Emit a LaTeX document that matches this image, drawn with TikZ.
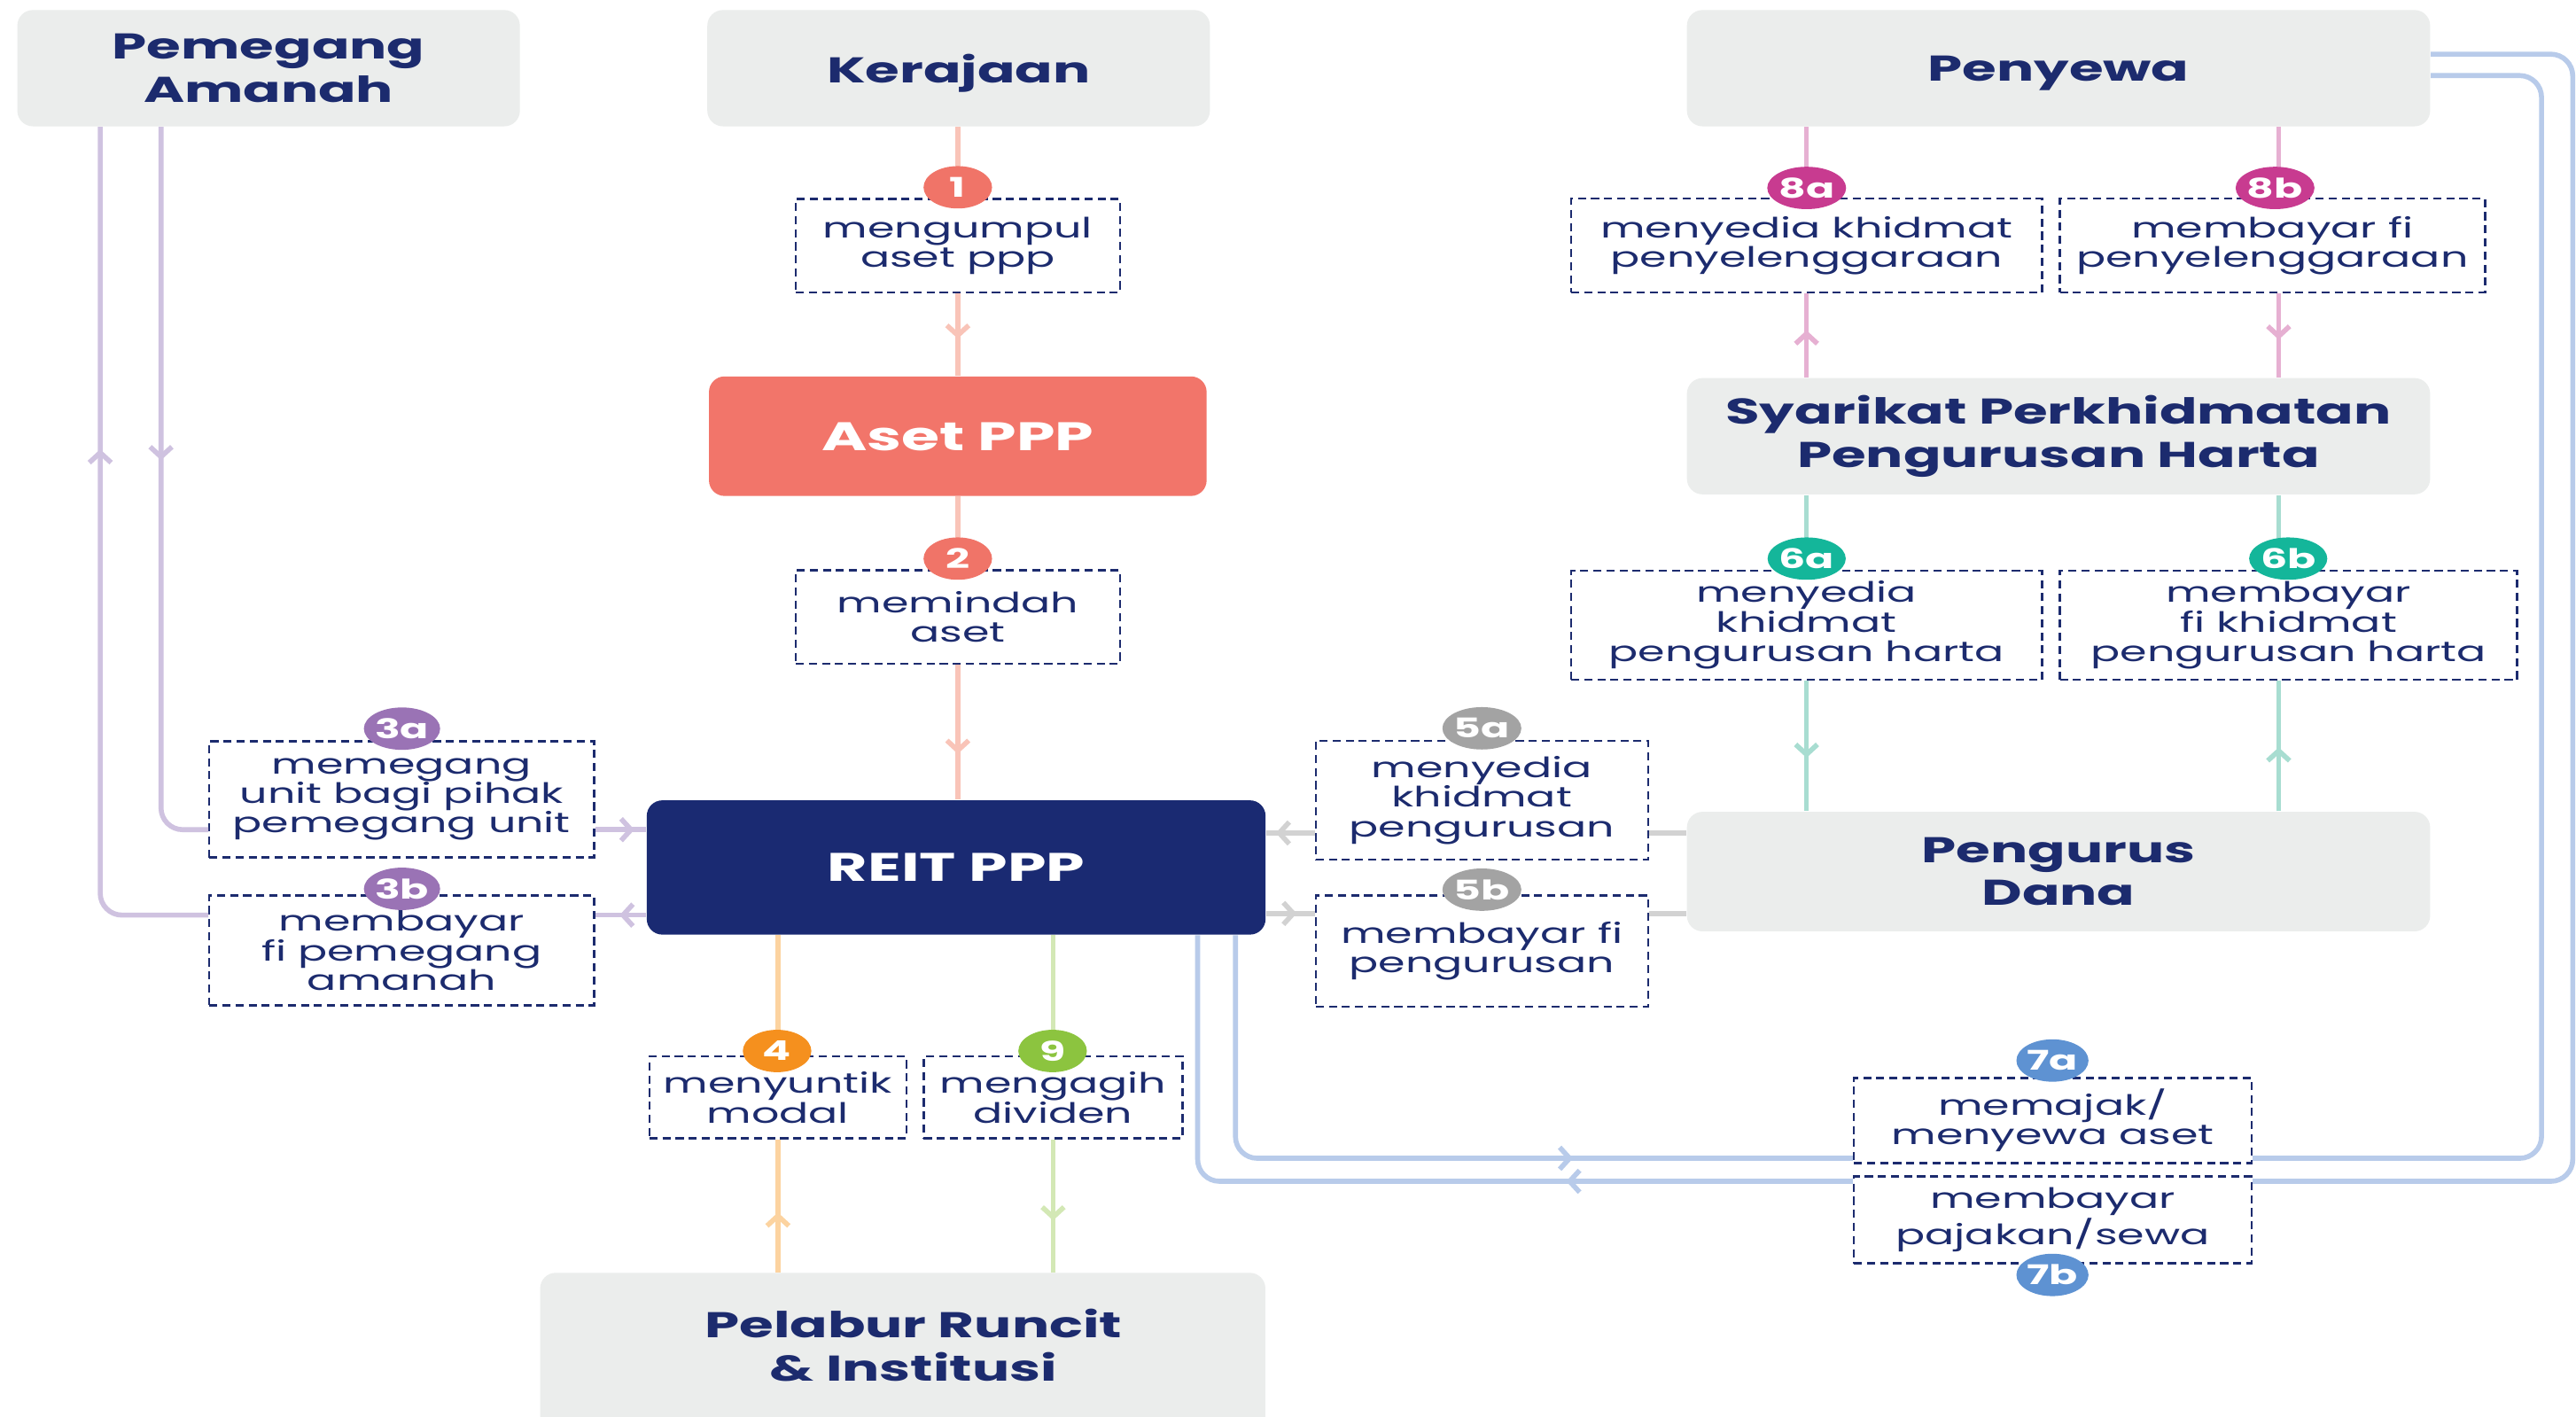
\documentclass[tikz,border=0pt]{standalone}
\usepackage{fontspec}
\setmainfont[FakeStretch=1.55]{Poppins}
\usetikzlibrary{shapes.geometric,arrows.meta,decorations.markings,calc}
\definecolor{navy}{HTML}{1C2B6E}
\definecolor{boxgray}{HTML}{EBEDEC}
\definecolor{reitblue}{HTML}{1A2A72}
\definecolor{asetred}{HTML}{F2756A}
\definecolor{csal}{HTML}{F9C4B8}
\definecolor{cpur}{HTML}{CFC2E0}
\definecolor{corg}{HTML}{FCD3A0}
\definecolor{cgrn}{HTML}{D3E8B5}
\definecolor{cpnk}{HTML}{E6B0D2}
\definecolor{ctea}{HTML}{A8DDD1}
\definecolor{cgry}{HTML}{D2D2D2}
\definecolor{cblu}{HTML}{B8CBEA}
\definecolor{bsal}{HTML}{F07468}
\definecolor{bpur}{HTML}{9A73B5}
\definecolor{borg}{HTML}{F5901E}
\definecolor{bgrn}{HTML}{8CC43F}
\definecolor{bgry}{HTML}{A3A3A3}
\definecolor{btea}{HTML}{14B69A}
\definecolor{bblu}{HTML}{5E92D2}
\definecolor{bpnk}{HTML}{C83B90}
\def\U{0.5256pt}
\tikzset{
  box/.style={rectangle, rounded corners=5pt, fill=boxgray, text=navy,
    font=\fontsize{11.5}{13.9}\selectfont\bfseries, align=center, inner sep=0pt},
  boxtxt/.style={text=navy, font=\fontsize{11.5}{13.9}\selectfont\bfseries, align=center, inner sep=0pt},
  whitebox/.style={box, text=white, font=\fontsize{12.8}{14}\selectfont\bfseries, text depth=0pt},
  lbl/.style={rectangle, draw=navy, dash pattern=on 2.6pt off 1.6pt, line width=0.7pt,
    fill=white, text=navy, font=\fontsize{9}{9.5}\selectfont, align=center, inner sep=0pt},
  badge/.style={ellipse, fill=#1, text=white, font=\fontsize{8.7}{9}\selectfont\bfseries,
    minimum width=22pt, minimum height=13.6pt, inner sep=0pt},
  conn/.style={line width=1.6pt, color=#1},
  arr/.style={postaction={decorate, decoration={markings,
    mark=at position #1 with {\arrow{Straight Barb[length=3.2pt,width=7pt]}}}}},
  rarr/.style={postaction={decorate, decoration={markings,
    mark=at position #1 with {\arrowreversed{Straight Barb[length=3.2pt,width=7pt]}}}}},
}
\begin{document}
\begin{tikzpicture}[x=0.018539cm, y=-0.018539cm]
\fill[white] (0,0) rectangle (1568,862);
\useasboundingbox (0,0) rectangle (1568,862);

% main boxes
\node[box, minimum width=307*\U, minimum height=71*\U] (pa) at (163.5,41.5) {Pemegang\\Amanah};
\node[box, text depth=0pt, minimum width=307*\U, minimum height=71*\U] (ker) at (583.5,41.5) {Kerajaan};
\node[box, text depth=0pt, minimum width=454*\U, minimum height=71*\U] (pen) at (1253,41.5) {Penyewa};
\node[whitebox, fill=asetred, minimum width=304*\U, minimum height=73*\U] (aset) at (583,265.5) {Aset PPP};
\node[box, minimum width=454*\U, minimum height=71*\U] (spph) at (1253,265.5) {Syarikat Perkhidmatan\\Pengurusan Harta};
\node[whitebox, fill=reitblue, minimum width=378*\U, minimum height=82*\U] (reit) at (582,528) {REIT PPP};
\node[box, minimum width=454*\U, minimum height=73*\U] (pd) at (1253,530.5) {Pengurus\\Dana};
\node[box, minimum width=443*\U, minimum height=120*\U] (pel) at (549.5,834.5) {};
\node[boxtxt] (peltxt) at (556,819) {Pelabur Runcit\\\& Institusi};

% label boxes
\node[lbl, minimum width=198*\U, minimum height=57*\U] (l1) at (583,149.5) {mengumpul\\aset ppp};
\node[lbl, minimum width=198*\U, minimum height=57*\U] (l2) at (583,375.5) {memindah\\aset};
\node[lbl, minimum width=235*\U, minimum height=71*\U] (l3a) at (244.5,486.5) {memegang\\unit bagi pihak\\pemegang unit};
\node[lbl, minimum width=235*\U, minimum height=67*\U] (l3b) at (244.5,578.5) {membayar\\fi pemegang\\amanah};
\node[lbl, minimum width=157*\U, minimum height=50*\U] (l4) at (473.5,668) {menyuntik\\modal};
\node[lbl, minimum width=158*\U, minimum height=50*\U] (l9) at (641,668) {mengagih\\dividen};
\node[lbl, minimum width=203*\U, minimum height=72.7*\U] (l5a) at (902,487) {menyedia\\khidmat\\pengurusan};
\node[lbl, minimum width=203*\U, minimum height=68*\U] (l5b) at (902,579) {membayar fi\\pengurusan};
\node[lbl, minimum width=287.6*\U, minimum height=66.6*\U] (l6a) at (1099.6,380.6) {menyedia\\khidmat\\pengurusan harta};
\node[lbl, minimum width=279.4*\U, minimum height=66.6*\U] (l6b) at (1393,380.6) {membayar\\fi khidmat\\pengurusan harta};
\node[lbl, minimum width=287.6*\U, minimum height=57.2*\U] (l8a) at (1099.6,149.4) {menyedia khidmat\\penyelenggaraan};
\node[lbl, minimum width=259.7*\U, minimum height=57.2*\U] (l8b) at (1383.2,149.4) {membayar fi\\penyelenggaraan};
\node[lbl, minimum width=243*\U, minimum height=52*\U] (l7a) at (1249.5,682) {memajak/\\menyewa aset};
\node[lbl, minimum width=243*\U, minimum height=53*\U] (l7b) at (1249.5,742.5) {membayar\\pajakan/sewa};

% connectors: salmon
\draw[conn=csal] (ker.south -| l1.north) -- (l1.north);
\draw[conn=csal, arr=0.55] (l1.south) -- (aset.north -| l1.south);
\draw[conn=csal] (aset.south -| l2.north) -- (l2.north);
\draw[conn=csal, arr=0.66] (l2.south) -- (reit.north -| l2.south);

% purple
\draw[conn=cpur, rounded corners=7pt, arr=107pt] (pa.south -| 98,0) |- (l3a.west |- 0,505);
\draw[conn=cpur, arr=0.77] (l3a.east |- 0,505) -- (reit.west |- 0,505);
\draw[conn=cpur, rounded corners=7pt, rarr=103.5pt] (pa.south -| 61,0) |- (l3b.west |- 0,557);
\draw[conn=cpur, arr=0.52] (reit.west |- 0,557) -- (l3b.east |- 0,557);

% orange & green
\draw[conn=corg] (reit.south -| l4.north) -- (l4.north);
\draw[conn=corg, arr=0.45] (pel.north -| l4.south) -- (l4.south);
\draw[conn=cgrn] (reit.south -| l9.north) -- (l9.north);
\draw[conn=cgrn, arr=0.61] (l9.south) -- (pel.north -| l9.south);

% pink
\draw[conn=cpnk] (pen.south -| l8a.north) -- (l8a.north);
\draw[conn=cpnk, arr=0.56] (spph.north -| l8a.south) -- (l8a.south);
\draw[conn=cpnk] (pen.south -| 1387,0) -- (l8b.north -| 1387,0);
\draw[conn=cpnk, arr=0.55] (l8b.south -| 1387,0) -- (spph.north -| 1387,0);

% teal
\draw[conn=ctea] (spph.south -| l6a.north) -- (l6a.north);
\draw[conn=ctea, arr=0.59] (l6a.south) -- (pd.north -| l6a.south);
\draw[conn=ctea] (spph.south -| 1387,0) -- (l6b.north -| 1387,0);
\draw[conn=ctea, arr=0.49] (pd.north -| 1387,0) -- (l6b.south -| 1387,0);

% gray
\draw[conn=cgry] (pd.west |- 0,507) -- (l5a.east |- 0,507);
\draw[conn=cgry, arr=0.8] (l5a.west |- 0,507) -- (reit.east |- 0,507);
\draw[conn=cgry] (pd.west |- 0,556) -- (l5b.east |- 0,556);
\draw[conn=cgry, arr=0.63] (reit.east |- 0,556) -- (l5b.west |- 0,556);

% blue
\draw[conn=cblu, rounded corners=7pt, arr=177pt] (reit.south -| 752,0) |- (l7a.west |- 0,705);
\draw[conn=cblu, rounded corners=7pt] (l7a.east |- 0,705) -| (1547,46) -- (pen.east |- 0,46);
\draw[conn=cblu, rounded corners=7pt] (pen.east |- 0,33) -- (1566,33) |- (l7b.east |- 0,719);
\draw[conn=cblu, rounded corners=7pt, arr=92pt] (l7b.west |- 0,719) -| (reit.south -| 729,0);

% redraw label boxes over blue lines
\node[lbl, minimum width=243*\U, minimum height=52*\U] at (l7a) {memajak/\\menyewa aset};
\node[lbl, minimum width=243*\U, minimum height=53*\U] at (l7b) {membayar\\pajakan/sewa};

% badges
\node[badge=bsal] (b1) at (583,114) {1};
\node[badge=bsal] (b2) at (583,340) {2};
\node[badge=bpur] (b3a) at (244.7,443.5) {3a};
\node[badge=bpur] (b3b) at (244.7,541) {3b};
\node[badge=borg] (b4) at (473,639.7) {4};
\node[badge=bgrn] (b9) at (640.7,639.7) {9};
\node[badge=bgry] (b5a) at (902,443.3) {5a};
\node[badge=bgry] (b5b) at (902,541.5) {5b};
\node[badge=btea] (b6a) at (1099.7,340) {6a};
\node[badge=btea] (b6b) at (1392.8,340) {6b};
\node[badge=bblu] (b7a) at (1249.3,645.5) {7a};
\node[badge=bblu] (b7b) at (1249.3,776) {7b};
\node[badge=bpnk] (b8a) at (1099.7,114.4) {8a};
\node[badge=bpnk] (b8b) at (1384.8,114.4) {8b};
\end{tikzpicture}
\end{document}
